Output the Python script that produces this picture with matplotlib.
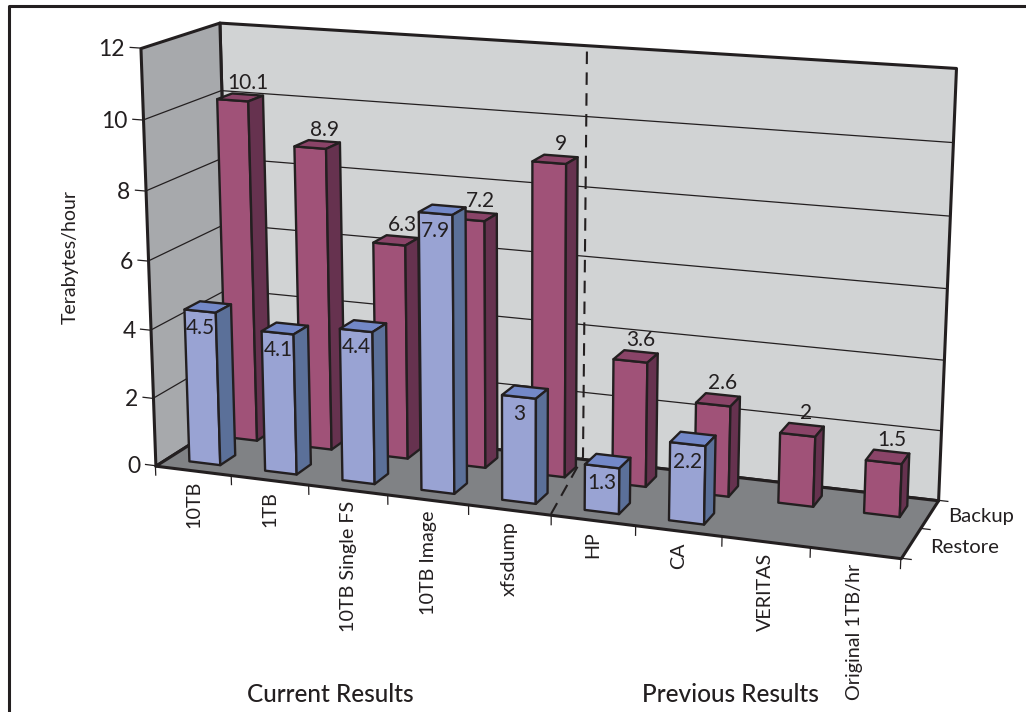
import numpy as np
import matplotlib
matplotlib.use('Agg')
import matplotlib.pyplot as plt
from matplotlib.lines import Line2D
from mpl_toolkits.mplot3d import proj3d
from mpl_toolkits.mplot3d.art3d import Line3DCollection, Poly3DCollection

plt.rcParams['font.family'] = ['Lato', 'DejaVu Sans']

# Throughput per backup product
categories = ['10TB', '1TB', '10TB Single FS', '10TB Image', 'xfsdump',
              'HP', 'CA', 'VERITAS', 'Original 1TB/hr']
backup = [10.1, 8.9, 6.3, 7.2, 9, 3.6, 2.6, 2, 1.5]
restore = [4.5, 4.1, 4.4, 7.9, 3, 1.3, 2.2]
value_ticks = [0, 2, 4, 6, 8, 10, 12]

INK = '#231f20'
RED = ('#a05278', '#8a4468', '#66324f')      # front, top, side
BLUE = ('#99a3d3', '#7388c8', '#5b7099')

# Camera: (category, series depth, value) -> figure pixels, fitted from frame corners
camera_points = [
    ((0, 0, 0), (155.7, 464)), ((0, 0, 12), (140, 48.7)), ((0, 2, 12), (220, 22)),
    ((0, 2, 0), (230, 420)), ((9, 0, 0), (901.3, 559.3)), ((9, 2, 0), (938.3, 498.3)),
    ((9, 2, 12), (956.7, 67.7)), ((0, 0, 10), (142.7, 120)), ((0, 0, 4), (151, 329.3)),
    ((9, 2, 10), (952, 143.3)), ((3, 0, 0), (388.3, 495.7)), ((5, 0, 0), (550.7, 514)),
    ((7, 0, 0), (721.5, 536.7)),
]


def fit_camera(points):
    rows, rhs = [], []
    for (x, y, z), (u, v) in points:
        rows.append([x, y, z, 1, 0, 0, 0, 0, -u * x, -u * y, -u * z])
        rows.append([0, 0, 0, 0, x, y, z, 1, -v * x, -v * y, -v * z])
        rhs += [u, v]
    p = np.linalg.lstsq(np.array(rows, float), np.array(rhs, float), rcond=None)[0]
    return np.array([p[:4], p[4:8], [0, 1, 0, 0], [p[8], p[9], p[10], 1.0]])


M = fit_camera(camera_points)

fig = plt.figure(figsize=(10.26, 7.12), dpi=100)
ax = fig.add_axes([0, 0, 1, 1], projection='3d')
ax.set_axis_off()
ax.computed_zorder = False
ax.get_proj = lambda: M
ax.apply_aspect = lambda position=None: None
ax.viewLim.intervalx = (0, 1026)
ax.viewLim.intervaly = (712, 0)


def face(verts, color, lw=1.7, zorder=1):
    poly = Poly3DCollection([verts], facecolors=color, edgecolors=INK, linewidths=lw)
    poly.set_zorder(zorder)
    ax.add_collection3d(poly)


def line(xs, ys, zs, lw=0.9, zorder=1.5):
    seg = [list(zip(xs, ys, zs))]
    lines = Line3DCollection(seg, colors=INK, linewidths=lw, capstyle='butt')
    lines.set_zorder(zorder)
    ax.add_collection3d(lines)


def label(x, y, z, s, **kw):
    u, v, _ = proj3d.proj_transform(x, y, z, M)
    kw.setdefault('color', INK)
    ax.text2D(u, v, s, transform=ax.transData, **kw)


def bar(cat, row, height, colors, zorder):
    x0, x1 = cat + 0.29, cat + 0.70
    y0, y1 = row + 0.3, row + 0.7
    face([(x0, y0, 0), (x1, y0, 0), (x1, y0, height), (x0, y0, height)], colors[0], zorder=zorder)
    face([(x0, y0, height), (x1, y0, height), (x1, y1, height), (x0, y1, height)], colors[1], zorder=zorder)
    face([(x1, y0, 0), (x1, y1, 0), (x1, y1, height), (x1, y0, height)], colors[2], zorder=zorder)


# Walls and floor
n = len(categories)
face([(0, 2, 0), (n, 2, 0), (n, 2, 12), (0, 2, 12)], '#d1d3d4', lw=2.2)
face([(0, 0, 0), (0, 2, 0), (0, 2, 12), (0, 0, 12)], '#a7a9ac', lw=2.2)
face([(0, 0, 0), (n, 0, 0), (n, 2, 0), (0, 2, 0)], '#808285', lw=2.2, zorder=1.2)

# Gridlines and value axis
for v in value_ticks:
    if 0 < v < 12:
        line([0, 0, n], [0, 2, 2], [v, v, v])
    line([-0.14, 0], [0, 0], [v, v])
    label(-0.2, 0, v - 0.08, str(v), ha='right', va='center', fontsize=16.5)

# Category axis
for i in range(n + 1):
    line([i, i], [0, 0], [0, -0.3])
for i, name in enumerate(categories):
    label(i + 0.5, 0, -0.32, name, rotation=90, ha='center', va='top', fontsize=14.2)

# Series axis
for r in range(3):
    line([n, n + 0.12], [r, r], [0, 0])
label(n + 0.22, 0.5, -0.07, 'Restore', ha='left', va='center', fontsize=14.6)
label(n + 0.22, 1.5, 0, 'Backup', ha='left', va='center', fontsize=14.6)

# Divider between current and previous results, drawn straight on the page
ax.add_artist(Line2D([551, 583, 587], [514, 457, 44], color=INK, lw=1.5, zorder=1.6,
                     linestyle=(0, (6, 4)), transform=ax.transData))

# Bars, back row first
for i, v in enumerate(backup):
    bar(i, 1, v, RED, 2 + i * 0.01)
    label(i + 0.5, 1.7, v + 0.03, str(v), ha='center', va='bottom', fontsize=15, zorder=5)
for i, v in enumerate(restore):
    bar(i, 0, v, BLUE, 3 + i * 0.01)
    label(i + 0.5, 0.3, v - 0.5, str(v), ha='center', va='center', fontsize=15, zorder=5)

ax.text2D(70 / 1026, 1 - 257 / 712, 'Terabytes/hour', rotation=90, ha='center', va='center',
          color=INK, fontsize=14, transform=fig.transFigure)
for x, s in [(330, 'Current Results'), (730, 'Previous Results')]:
    ax.text2D(x / 1026, 1 - 695 / 712, s, ha='center', va='center', color=INK, fontsize=17.6,
              fontweight='medium', transform=fig.transFigure)

# Page rule along the top and left
fig.add_artist(Line2D([8.5 / 1026, 8.5 / 1026, 1], [0, 1 - 5.5 / 712, 1 - 5.5 / 712],
                      color=INK, lw=2.2, transform=fig.transFigure))

fig.savefig('out.png', dpi=100)
